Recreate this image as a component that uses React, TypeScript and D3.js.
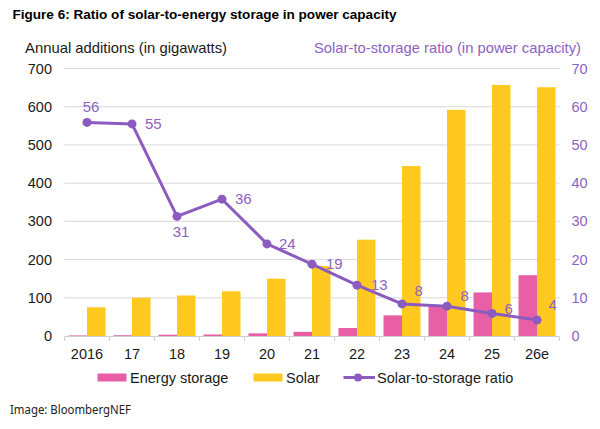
import React from "react";
import * as d3 from "d3";

const categories = ["2016", "17", "18", "19", "20", "21", "22", "23", "24", "25", "26e"];
const storageGW = [1.5, 2, 3.5, 4, 7, 11, 21, 54, 78, 114, 159];
const solarGW = [75, 100, 106, 117, 150, 183, 252, 445, 592, 657, 651];
const ratio = [55.9, 55.5, 31.3, 35.8, 24.1, 18.8, 13.3, 8.4, 7.8, 5.9, 4.2];
const ratioLabels = ["56", "55", "31", "36", "24", "19", "13", "8", "8", "6", "4"];
const leftTicks = [0, 100, 200, 300, 400, 500, 600, 700];
const rightTicks = [0, 10, 20, 30, 40, 50, 60, 70];

// label nudges relative to point [dx, dy(baseline)], with anchor
const labelNudge: [number, number, string][] = [
  [4, -10, "middle"],
  [13, 5, "start"],
  [4, 21, "middle"],
  [13, 5, "start"],
  [12, 5, "start"],
  [14, 5, "start"],
  [14, 5, "start"],
  [12.5, -8, "start"],
  [13.5, -5, "start"],
  [12.5, 1, "start"],
  [11.5, -10, "start"],
];

const PINK = "#E95FA6";
const YELLOW = "#FFC91F";
const PURPLE = "#8B5BC0";
const PURPLE_TEXT = "#8E62C2";
const FONT = "'Liberation Sans', Arial, sans-serif";

export default function App() {
  const x = d3.scaleBand<string>().domain(categories).range([64.5, 559.5]).padding(0);
  const yL = d3.scaleLinear().domain([0, 700]).range([336, 68.5]);
  const yR = d3.scaleLinear().domain([0, 70]).range([336, 68.5]);
  const inner = d3.scaleBand<string>().domain(["storage", "solar"]).range([-18.5, 18.5]).padding(0);
  const cx = (c: string) => (x(c) as number) + x.bandwidth() / 2;

  const line = d3
    .line<number>()
    .x((_, i) => cx(categories[i]))
    .y((d) => yR(d));

  const boundaries = categories.map((c) => x(c) as number).concat([559.5]);

  return (
    <svg
      width={600}
      height={429}
      style={{ position: "absolute", left: 0, top: 0, background: "#fff" }}
      fontFamily={FONT}
    >
      <rect x={0} y={0} width={600} height={429} fill="#fff" />
      <text x={12.5} y={18.5} fontSize={12.5} fontWeight="bold" fill="#000" textLength={384} lengthAdjust="spacingAndGlyphs">
        Figure 6:  Ratio of solar-to-energy storage in power capacity
      </text>
      <text x={25} y={53} fontSize={15} fill="#1a1a1a" textLength={202} lengthAdjust="spacingAndGlyphs">
        Annual additions (in gigawatts)
      </text>
      <text x={314} y={53} fontSize={15} fill={PURPLE_TEXT} textLength={267} lengthAdjust="spacingAndGlyphs">
        Solar-to-storage ratio (in power capacity)
      </text>

      {/* gridlines */}
      {leftTicks.slice(1).map((t) => (
        <line key={"g" + t} x1={64.5} x2={559.5} y1={yL(t)} y2={yL(t)} stroke="#D9D9D9" strokeWidth={1} />
      ))}

      {/* left tick labels */}
      {leftTicks.map((t) => (
        <text key={"l" + t} x={52} y={yL(t) + 5} textAnchor="end" fontSize={14.5} fill="#1a1a1a">
          {t}
        </text>
      ))}
      {/* right tick labels */}
      {rightTicks.map((t) => (
        <text key={"r" + t} x={571.5} y={yR(t) + 5} textAnchor="start" fontSize={14.5} fill={PURPLE_TEXT}>
          {t}
        </text>
      ))}

      {/* bars */}
      {categories.map((c, i) => (
        <g key={"b" + c}>
          <rect
            x={cx(c) + (inner("storage") as number)}
            y={yL(storageGW[i])}
            width={inner.bandwidth()}
            height={yL(0) - yL(storageGW[i])}
            fill={PINK}
          />
          <rect
            x={cx(c) + (inner("solar") as number)}
            y={yL(solarGW[i])}
            width={inner.bandwidth()}
            height={yL(0) - yL(solarGW[i])}
            fill={YELLOW}
          />
        </g>
      ))}

      {/* x axis */}
      <line x1={64.5} x2={559.5} y1={336.5} y2={336.5} stroke="#D0D0D0" strokeWidth={1} />
      {boundaries.map((b, i) => (
        <line key={"t" + i} x1={b} x2={b} y1={336.5} y2={341} stroke="#D0D0D0" strokeWidth={1} />
      ))}
      {categories.map((c) => (
        <text key={"c" + c} x={cx(c)} y={358.5} textAnchor="middle" fontSize={14.5} fill="#1a1a1a">
          {c}
        </text>
      ))}

      {/* ratio line */}
      <path d={line(ratio) as string} fill="none" stroke={PURPLE} strokeWidth={3} strokeLinejoin="round" />
      {ratio.map((r, i) => (
        <circle key={"p" + i} cx={cx(categories[i])} cy={yR(r)} r={4.5} fill={PURPLE} />
      ))}
      {ratio.map((r, i) => (
        <text
          key={"dl" + i}
          x={cx(categories[i]) + labelNudge[i][0]}
          y={yR(r) + labelNudge[i][1]}
          textAnchor={labelNudge[i][2] as any}
          fontSize={15}
          fill={PURPLE_TEXT}
        >
          {ratioLabels[i]}
        </text>
      ))}

      {/* legend */}
      <rect x={97.5} y={373.5} width={29} height={8} fill={PINK} />
      <text x={130} y={382.5} fontSize={14.5} fill="#1a1a1a">Energy storage</text>
      <rect x={253.5} y={373.5} width={29} height={8} fill={YELLOW} />
      <text x={286} y={382.5} fontSize={14.5} fill="#1a1a1a">Solar</text>
      <line x1={343.5} x2={375} y1={377.5} y2={377.5} stroke={PURPLE} strokeWidth={3} />
      <circle cx={358} cy={377.5} r={4} fill={PURPLE} />
      <text x={377} y={382.5} fontSize={14.5} fill="#1a1a1a">Solar-to-storage ratio</text>

      <text x={10} y={414} fontSize={12} fill="#222" fontFamily="'Noto Sans', 'Open Sans', sans-serif" textLength={121} lengthAdjust="spacingAndGlyphs">
        Image: BloombergNEF
      </text>
    </svg>
  );
}
